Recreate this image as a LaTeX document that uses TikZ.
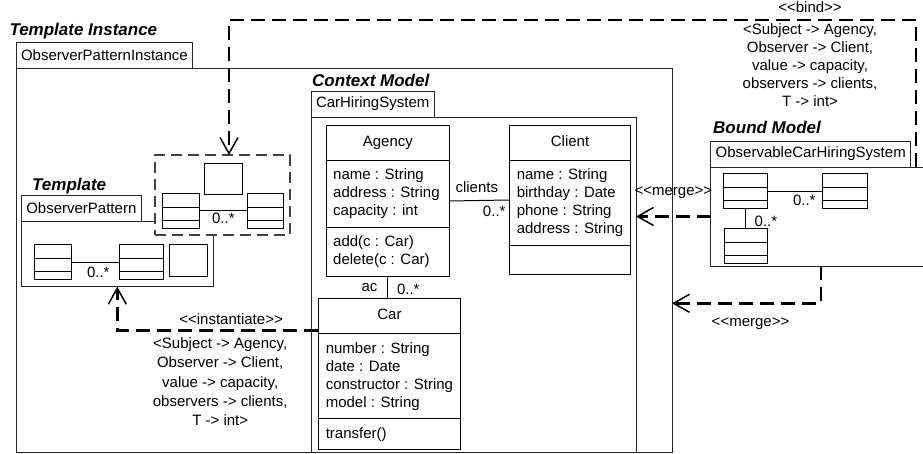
\documentclass[tikz,border=0pt]{standalone}
\usepackage{fontspec}
\setmainfont{Liberation Sans}
\usepackage{tikz}
\usetikzlibrary{positioning, shapes.multipart, arrows.meta}

\newcommand{\minirows}{\rule{0pt}{13pt}\nodepart{two}\rule{0pt}{12pt}\nodepart{three}\rule{0pt}{7pt}}

\begin{document}
\begin{tikzpicture}[x=1pt, y=-1pt, line width=1pt,
        font=\fontsize{15}{18}\selectfont,
        framebody/.style={draw=black!85, line width=0.9pt, fill=white, inner sep=0pt, outer sep=0pt, anchor=north west},
        tab/.style={draw=black!85, line width=0.9pt, fill=white, inner xsep=5pt, inner ysep=0pt, outer sep=0pt, minimum height=26pt},
        frametitle/.style={anchor=base west, inner sep=0pt, font=\fontsize{17}{20}\selectfont\bfseries\itshape},
        cls/.style={draw, fill=white, anchor=north west, rectangle split, rectangle split parts=3,
            rectangle split part align={center,left,left}, align=left,
            inner xsep=7pt, inner ysep=8pt, rectangle split empty part height=12pt},
        mini/.style={draw, fill=white, anchor=north west, rectangle split, rectangle split parts=3, inner sep=0pt},
        icon/.style={draw, fill=white, anchor=north west, inner sep=0pt, minimum width=37.5pt, minimum height=32pt},
        lbl/.style={inner sep=0pt},
        dep/.style={line width=2.4pt, dash pattern=on 14pt off 7pt,
            -{Straight Barb[length=16pt, width=18pt, line width=1.5pt]}}]
            \useasboundingbox (0,0) rectangle (923,453);

            \node[framebody, minimum width=656pt, minimum height=384pt] (ti) at (16,68) {};
            \node[tab, above right=0pt of ti.north west]   (titab)  {ObserverPatternInstance};
            \node[frametitle]                               (tilbl)  at (9,35) {Template Instance};

            \node[framebody, minimum width=325pt, minimum height=335pt] (ctx) at (311,117) {};
            \node[tab, above right=0pt of ctx.north west]  (ctxtab) {CarHiringSystem};
            \node[frametitle]                               (ctxlbl) at (311.7,86.7) {Context Model};

            \node[framebody, minimum width=192pt, minimum height=65.7pt] (tpl) at (21.3,221) {};
            \node[tab, above right=0pt of tpl.north west]  (tpltab) {ObserverPattern};
            \node[frametitle]                               (tpllbl) at (31.7,190) {Template};

            \node[framebody, draw=black!75, line width=2.2pt, dash pattern=on 11pt off 6pt,
                minimum width=135pt, minimum height=80pt]  (pbox)   at (155,155) {};

            \node[framebody, minimum width=220pt, minimum height=99pt] (bnd) at (710.7,167) {};
            \node[tab, above right=0pt of bnd.north west]  (bndtab) {ObservableCarHiringSystem};
            \node[frametitle]                               (bndlbl) at (712.7,133.3) {Bound Model};

            \node[icon, minimum height=31.6pt]    (psq) at (204.3,162.7) {};
            \node[mini, minimum width=36.7pt]     (pl)  at (162.3,192.7) {\minirows};
            \node[mini, minimum width=36.7pt]     (pr)  at (246.7,192.7) {\minirows};
            \node[mini, minimum width=36.7pt]     (tl)  at (34.3,244.3)  {\minirows};
            \node[mini, minimum width=44.3pt]     (tr)  at (119,244.3)   {\minirows};
            \node[icon]                           (tsq) at (169,244.3)   {};
            \node[mini, minimum width=44pt]       (ba)  at (722.7,173.3) {\minirows};
            \node[mini, minimum width=45pt]       (bb)  at (822.3,173.3) {\minirows};
            \node[mini, minimum width=42.7pt]     (bc)  at (724,228.3)   {\minirows};

            \node[cls, minimum width=123.3pt] (agency) at (325.7,125) {\strut Agency
                \nodepart{two}name : String\\address : String\\capacity : int
                \nodepart{three}add(c : Car)\\delete(c : Car)};
            \node[cls, minimum width=117.4pt] (client) at (509.3,125) {\strut Client
                \nodepart{two}name : String\\birthday : Date\\phone : String\\address : String
                \nodepart{three}};
            \node[cls, minimum width=140.7pt] (car)    at (318.3,298.3) {\strut Car
                \nodepart{two}number : String\\date : Date\\constructor : String\\model : String
                \nodepart{three}transfer()};

            \draw (agency.east) -- node[lbl, pos=0, above right=7.5pt and 5pt] {clients}
                node[lbl, pos=1, below left=5.8pt and 3.3pt] {0..*} (client.west);
            \draw (agency.south) -- node[lbl, pos=1, above left=6.6pt and 10pt] {ac}
                node[lbl, pos=1, above right=3.3pt and 8.7pt] {0..*} (agency.south |- car.north);
            \draw (pl) -- node[lbl, below=2.3pt] {0..*} (pr);
            \draw (tl) -- node[lbl, pos=0.56, below=4pt] {0..*} (tr);
            \draw (ba) -- node[lbl, pos=0.67, below=3.3pt] {0..*} (bb);
            \draw (ba) -- node[lbl, pos=1, above right=1pt and 9pt] {0..*} (ba.south |- bc.north);

            \draw[dep] ([yshift=-32pt]car.north west) -| node[lbl, pos=0.217, above=4.6pt] {<{}<instantiate>{}>}
                node[lbl, pos=0.244, below=6pt, align=center, font=\fontsize{15}{19.4}\selectfont]
                {<Subject -> Agency,\\Observer -> Client,\\value -> capacity,\\observers -> clients,\\T -> int>} (tpl.south);
            \draw[dep] ([xshift=5pt]bndtab.south east) -- ++(0,-147) -| node[lbl, pos=0.077, above=6pt] {<{}<bind>{}>}
                node[lbl, pos=0.077, below=2.4pt, align=center]
                {<Subject -> Agency,\\Observer -> Client,\\value -> capacity,\\observers -> clients,\\T -> int>} ([xshift=6.5pt]pbox.north);
            \draw[dep] (bnd.west) -- node[lbl, above=16.6pt] {<{}<merge>{}>} (ctx.east |- bnd.west);
            \draw[dep] (bnd.south) |- node[lbl, pos=0.736, below=13pt] {<{}<merge>{}>} ([yshift=-235.3pt]ti.north east);
        \end{tikzpicture}
\end{document}
